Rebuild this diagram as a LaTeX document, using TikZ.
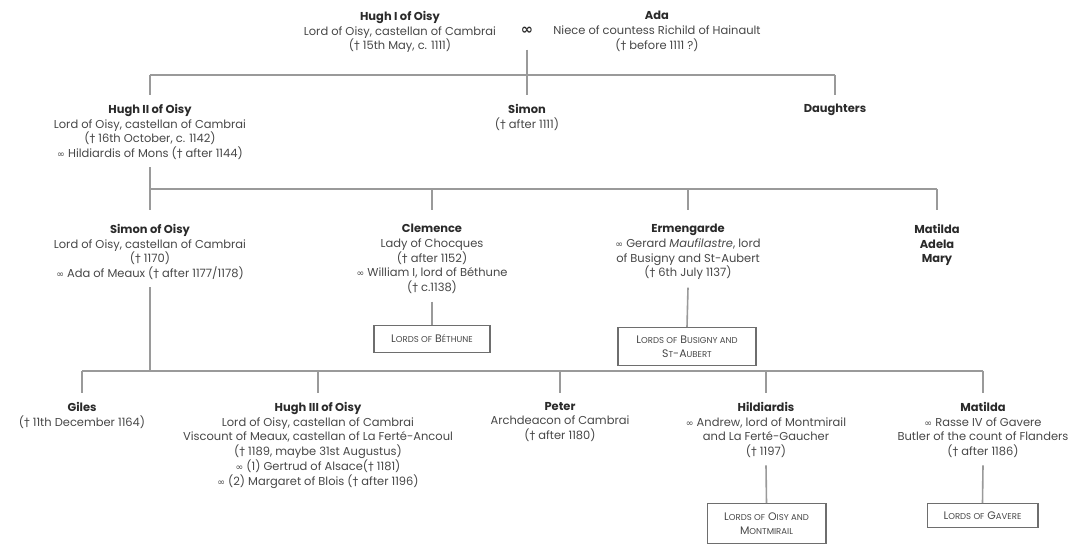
\documentclass[tikz,border=0pt]{standalone}
\usepackage{fontspec}
\setmainfont{Poppins}[Numbers=Monospaced]
\newfontfamily\symf{DejaVu Sans}
\definecolor{txt}{HTML}{474747}
\definecolor{ttl}{HTML}{2A2A2A}
\definecolor{linec}{HTML}{9A9A9A}
\definecolor{boxc}{HTML}{6E6E6E}
\newcommand\dg{{\symf †}}
\newcommand\mar{{\symf\fontsize{7}{6}\selectfont ∞}}
\newcommand\fsc[1]{{\fontsize{6.4}{6}\selectfont #1}}
\newcommand\ttl[1]{{\bfseries\color{ttl}#1}}
\begin{document}
\begin{tikzpicture}[x=0.75pt,y=-0.75pt,
  person/.style={align=center, inner sep=2.5pt, anchor=north, text=txt,
    font=\fontsize{8.6}{11.1}\selectfont},
  conn/.style={draw=linec, line width=1.2pt},
  famil/.style={draw=boxc, line width=1pt, anchor=north, align=center, text=txt,
    inner sep=2pt, font=\fontsize{8.2}{10}\selectfont}]
\useasboundingbox (0,0) rectangle (1079,544);
% generation 1
\node[person] (hugh1) at (400,7.5) {\ttl{Hugh I of Oisy}\\Lord of Oisy, castellan of Cambrai\\(\dg{} 15th May, c. 1111)};
\node[person] (ada) at (657,7.5) {\ttl{Ada}\\Niece of countess Richild of Hainault\\(\dg{} before 1111 ?)};
\node[text=ttl, font=\symf\bfseries\fontsize{11}{11}\selectfont, inner sep=1pt] (inf) at (527,31) {∞};
\coordinate (aL) at (150,75);
\coordinate (aR) at (835,75);
% generation 2
\node[person] (hugh2) at (150,100.5) {\ttl{Hugh II of Oisy}\\Lord of Oisy, castellan of Cambrai\\(\dg{} 16th October, c. 1142)\\\mar{} Hildiardis of Mons (\dg{} after 1144)};
\node[person] (simon) at (527,100.5) {\ttl{Simon}\\(\dg{} after 1111)};
\node[person] (daught) at (835,100.5) {\ttl{Daughters}};
\coordinate (bL) at (150,189);
\coordinate (bR) at (937,189);
% generation 3
\node[person] (simon2) at (150,220.5) {\ttl{Simon of Oisy}\\Lord of Oisy, castellan of Cambrai\\(\dg{} 1170)\\\mar{} Ada of Meaux (\dg{} after 1177/1178)};
\node[person] (clem) at (432,220.5) {\ttl{Clemence}\\Lady of Chocques\\(\dg{} after 1152)\\\mar{} William I, lord of Béthune\\(\dg{} c.1138)};
\node[person] (erm) at (688,220.5) {\ttl{Ermengarde}\\\mar{} Gerard \textit{Maufilastre}, lord\\of Busigny and St-Aubert\\(\dg{} 6th July 1137)};
\node[person] (mam) at (937,220.5) {\ttl{Matilda}\\\ttl{Adela}\\\ttl{Mary}};
\node[famil, minimum width=87pt, minimum height=20pt] (beth) at (432,325) {L\fsc{ORDS OF} B\fsc{ÉTHUNE}};
\node[famil, minimum width=103.5pt, minimum height=28.5pt] (busi) at (687,327) {L\fsc{ORDS OF} B\fsc{USIGNY AND}\\S\fsc{T}-A\fsc{UBERT}};
\coordinate (cL) at (82,371);
\coordinate (cR) at (983,371);
% generation 4
\node[person] (giles) at (82,398.5) {\ttl{Giles}\\(\dg{} 11th December 1164)};
\node[person] (hugh3) at (318,398.5) {\ttl{Hugh III of Oisy}\\Lord of Oisy, castellan of Cambrai\\Viscount of Meaux, castellan of La Ferté-Ancoul\\(\dg{} 1189, maybe 31st Augustus)\\\mar{} (1) Gertrud of Alsace(\dg{} 1181)\\\mar{} (2) Margaret of Blois (\dg{} after 1196)};
\node[person] (peter) at (560,398.5) {\ttl{Peter}\\Archdeacon of Cambrai\\(\dg{} after 1180)};
\node[person] (hild) at (766,398.5) {\ttl{Hildiardis}\\\mar{} Andrew, lord of Montmirail\\and La Ferté-Gaucher\\(\dg{} 1197)};
\node[person] (mat) at (983,398.5) {\ttl{Matilda}\\\mar{} Rasse IV of Gavere\\Butler of the count of Flanders\\(\dg{} after 1186)};
\node[famil, minimum width=89pt, minimum height=30pt] (oisy) at (766.5,503) {L\fsc{ORDS OF} O\fsc{ISY AND}\\M\fsc{ONTMIRAIL}};
\node[famil, minimum width=83pt, minimum height=18pt] (gav) at (982.5,503) {L\fsc{ORDS OF} G\fsc{AVERE}};
% connectors
\draw[conn] ([yshift=-10pt]inf.south) -- (inf.south |- aL);
\draw[conn] (aL) -- (aR);
\draw[conn] (aL) -- ([yshift=4pt]hugh2.north);
\draw[conn] (inf.south |- aL) -- ([yshift=4pt]simon.north);
\draw[conn] (aR) -- ([yshift=4pt]daught.north);
\draw[conn] ([yshift=-3pt]hugh2.south) -- (bL);
\draw[conn] (bL) -- (bR);
\draw[conn] (bL) -- ([yshift=8pt]simon2.north);
\draw[conn] (clem.north |- bL) -- ([yshift=8pt]clem.north);
\draw[conn] (erm.north |- bL) -- ([yshift=8pt]erm.north);
\draw[conn] (bR) -- ([yshift=8pt]mam.north);
\draw[conn] ([yshift=-3pt]clem.south) -- (beth.north);
\draw[conn] ([yshift=-3pt]erm.south) -- (busi.north);
\draw[conn] ([yshift=-3pt]simon2.south) -- (simon2.south |- cL);
\draw[conn] (cL) -- (cR);
\draw[conn] (cL) -- ([yshift=4pt]giles.north);
\draw[conn] (hugh3.north |- cL) -- ([yshift=4pt]hugh3.north);
\draw[conn] (peter.north |- cL) -- ([yshift=4pt]peter.north);
\draw[conn] (hild.north |- cL) -- ([yshift=4pt]hild.north);
\draw[conn] (cR) -- ([yshift=4pt]mat.north);
\draw[conn] ([yshift=-3pt]hild.south) -- (oisy.north);
\draw[conn] ([yshift=-3pt]mat.south) -- (gav.north);
\end{tikzpicture}
\end{document}
